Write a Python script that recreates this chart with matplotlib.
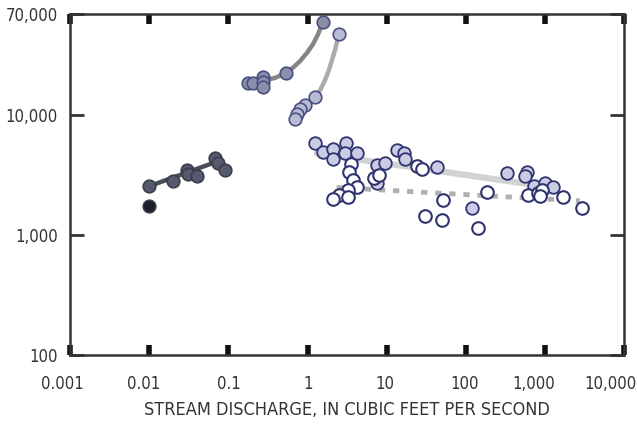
import numpy as np
import matplotlib
matplotlib.use("Agg")
import matplotlib.pyplot as plt
import matplotlib.transforms as mtrans
from matplotlib.ticker import FixedLocator, FixedFormatter, NullLocator

plt.rcParams['font.family'] = ['DejaVu Sans']
plt.rcParams['font.stretch'] = 'condensed'

# --- data (discharge in ft3/s, value on y) ---
dark_q = [0.0100, 0.0201, 0.0298, 0.0312, 0.0398, 0.0677, 0.0746, 0.0906]
dark_c = [2560, 2820, 3490, 3210, 3100, 4430, 3965, 3490]
black_q = [0.0100]
black_c = [1740]
dark_fit_q = [0.0100, 0.075]
dark_fit_c = [2560, 4150]

mid_q = [0.1767, 0.2045, 0.2735, 0.2735, 0.2735, 0.538, 1.552]
mid_c = [18600, 18600, 20850, 18950, 17200, 22270, 59950]
mid_curve_q = [0.275, 0.40, 0.518, 0.65, 0.80, 0.98, 1.17, 1.35, 1.52]
mid_curve_c = [19300, 20600, 22390, 24800, 28180, 33000, 39050, 47000, 57300]

light_q = [2.51, 1.24, 0.927, 0.80, 0.728, 0.693]
light_c = [47300, 14050, 12120, 11160, 10190, 9210]
light_curve_q = [0.693, 0.927, 1.24, 1.45, 1.66, 1.85, 2.03, 2.25, 2.42]
light_curve_c = [9630, 11440, 13860, 16300, 19570, 23500, 28730, 36000, 44670]

fill_q = [1.24, 1.58, 2.11, 2.11, 3.05, 2.97, 4.24, 7.46, 9.49, 7.46, 13.3,
          16.5, 17.0, 43.4, 327, 594, 556, 728, 994, 1265, 118]
fill_c = [5880, 4945, 5180, 4355, 5810, 4795, 4795, 3830, 4005, 2700, 5110,
          4795, 4355, 3710, 3305, 3370, 3100, 2575, 2700, 2527, 1690]
fill_fit_q = [1.30, 778]
fill_fit_c = [4795, 2610]

open_q = [3.50, 3.36, 3.78, 4.17, 3.27, 2.51, 2.11, 3.27, 6.89, 7.97, 23.8,
          27.6, 51.7, 30.3, 49.3, 182, 143, 612, 804, 903, 860, 1694, 2890]
open_c = [3885, 3370, 2910, 2527, 2370, 2150, 2020, 2085, 3000, 3160, 3760,
          3530, 1958, 1440, 1334, 2295, 1137, 2150, 2226, 2370, 2113, 2062, 1670]
open_fit_q = [2.33, 2750]
open_fit_c = [2497, 1930]

x_ticks = [0.001, 0.01, 0.1, 1, 10, 100, 1000, 10000]
x_labels = ['0.001', '0.01', '0.1', '1', '10', '100', '1,000', '10,000']
y_ticks = [100, 1000, 10000, 70000]
y_labels = ['100', '1,000', '10,000', '70,000']

# small sideways nudges of the x tick labels, in pixels
x_label_nudge = [-8, -6, 0, 0, -2, -1, -11, -14]

edge = '#2f3470'
fig = plt.figure(figsize=(6.37, 4.32), dpi=100)
ax = fig.add_axes([0.110, 0.178, 0.870, 0.790])

# fit lines
ax.plot(dark_fit_q, dark_fit_c, color='#4a4c56', lw=3.2, solid_capstyle='round', zorder=2)
ax.plot(mid_curve_q, mid_curve_c, color='#858585', lw=3.2, solid_capstyle='round', zorder=2)
ax.plot(light_curve_q, light_curve_c, color='#ababab', lw=3.2, solid_capstyle='round', zorder=2)
ax.plot(fill_fit_q, fill_fit_c, color='#d2d2d2', lw=4.5, solid_capstyle='round', zorder=2)
ax.plot(open_fit_q, open_fit_c, color='#b0b0b0', lw=3.5, ls=(0, (1.3, 1.6)),
        dash_capstyle='butt', zorder=2)

ms = 82
ax.scatter(dark_q, dark_c, s=ms, c='#565a6e', edgecolors='#3a3d4c', linewidths=1.2, zorder=3)
ax.scatter(black_q, black_c, s=ms, c='#1c1e2a', edgecolors='#3a3c4c', linewidths=1.2, zorder=3)
ax.scatter(mid_q, mid_c, s=ms, c='#8a8eaa', edgecolors='#4a4f80', linewidths=1.2, zorder=3)
ax.scatter(light_q, light_c, s=ms, c='#b8bbd5', edgecolors='#4a4f80', linewidths=1.2, zorder=3)
ax.scatter(fill_q, fill_c, s=ms, c='#c9cce2', edgecolors=edge, linewidths=1.3, zorder=3)
ax.scatter(open_q, open_c, s=ms, c='white', edgecolors=edge, linewidths=1.5, zorder=4)

ax.set_xscale('log')
ax.set_yscale('log')
ax.set_xlim(0.001, 10000)
ax.set_ylim(100, 70000)

ax.xaxis.set_major_locator(FixedLocator(x_ticks))
ax.xaxis.set_major_formatter(FixedFormatter(x_labels))
ax.xaxis.set_minor_locator(NullLocator())
ax.yaxis.set_major_locator(FixedLocator(y_ticks))
ax.yaxis.set_major_formatter(FixedFormatter(y_labels))
ax.yaxis.set_minor_locator(NullLocator())

ax.tick_params(axis='x', which='major', direction='in', length=7, width=4,
               top=True, bottom=True, labelsize=12, pad=14, colors='#111111',
               labelcolor='#333333')
ax.tick_params(axis='y', which='major', direction='in', length=10, width=2,
               left=True, right=True, labelsize=12, pad=9, colors='#333333',
               labelcolor='#333333')
for t in ax.yaxis.get_major_ticks():
    if t.get_loc() in (100, 70000):
        t.tick1line.set_visible(False)
        t.tick2line.set_visible(False)
for t in ax.xaxis.get_major_ticks():
    if t.get_loc() in (0.001, 10000):
        t.tick1line.set_visible(False)
        t.tick2line.set_visible(False)

for lab, dx in zip(ax.get_xticklabels(), x_label_nudge):
    lab.set_transform(lab.get_transform() +
                      mtrans.ScaledTranslation(dx / 100, 0, fig.dpi_scale_trans))

for s in ax.spines.values():
    s.set_linewidth(1.8)
    s.set_color('#333333')

ax.set_xlabel('STREAM DISCHARGE, IN CUBIC FEET PER SECOND', fontsize=13,
              color='#333333', labelpad=6)

fig.savefig('out.png', dpi=100)
